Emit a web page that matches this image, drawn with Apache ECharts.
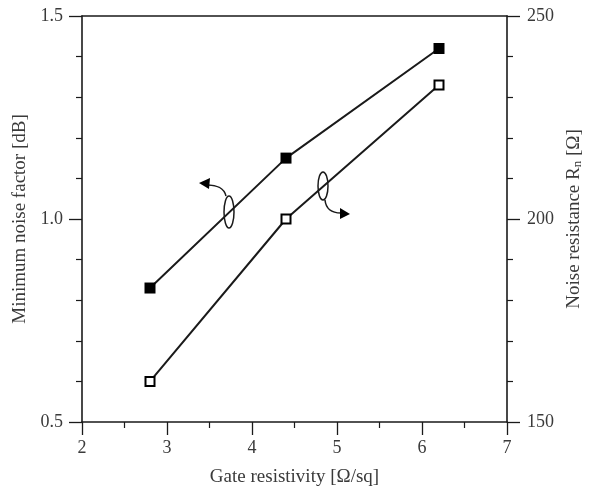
<!DOCTYPE html>
<html>
<head>
<meta charset="utf-8">
<script src="https://cdn.jsdelivr.net/npm/echarts@6/dist/echarts.min.js"></script>
<style>html,body{margin:0;padding:0;background:#fff}#c{width:594px;height:492px}</style>
</head>
<body>
<div id="c"></div>
<script>
const gateResistivity = [2.8, 4.4, 6.2];
const noiseFactor = [0.83, 1.15, 1.42];
const noiseResistance = [160, 200, 233];
const xTicks = [2, 3, 4, 5, 6, 7];
const leftTicks = [0.5, 1.0, 1.5];
const rightTicks = [150, 200, 250];

const FONT = 'Liberation Serif';
const TXT = '#3a3a3a';
const LINE = '#1a1a1a';
const LBL = 18;
const NAME = 19;

const chart = echarts.init(document.getElementById('c'), null, {renderer: 'canvas'});
const axisCommon = {
  axisLine: {show: true, lineStyle: {color: LINE, width: 1.6}},
  axisTick: {show: true, inside: false, length: 13, lineStyle: {color: LINE, width: 1.3}},
  minorTick: {show: true, splitNumber: 5, length: 6, lineStyle: {color: LINE, width: 1.2}},
  splitLine: {show: false},
  axisLabel: {color: TXT, fontFamily: FONT, fontSize: LBL, margin: 18},
  nameTextStyle: {color: TXT, fontFamily: FONT, fontSize: NAME}
};
chart.setOption({
  animation: false,
  backgroundColor: '#fff',
  grid: {left: 82, right: 87, top: 16, bottom: 70},
  xAxis: [
    Object.assign({}, axisCommon, {
      type: 'value', min: xTicks[0], max: xTicks[xTicks.length - 1], interval: 1,
      minorTick: {show: true, splitNumber: 2, length: 6, lineStyle: {color: LINE, width: 1.2}},
      name: 'Gate resistivity [Ω/sq]', nameLocation: 'middle', nameGap: 46,
      axisLabel: {color: TXT, fontFamily: FONT, fontSize: LBL, margin: 17}
    }),
    {type: 'value', position: 'top', min: 2, max: 7, axisLine: {show: true, lineStyle: {color: LINE, width: 1.6}},
     axisTick: {show: false}, axisLabel: {show: false}, splitLine: {show: false}}
  ],
  yAxis: [
    Object.assign({}, axisCommon, {
      type: 'value', position: 'left', min: leftTicks[0], max: leftTicks[2], interval: 0.5,
      name: 'Minimum noise factor [dB]', nameLocation: 'middle', nameGap: 50, nameRotate: 90,
      axisLabel: {color: TXT, fontFamily: FONT, fontSize: LBL, margin: 19, formatter: v => v.toFixed(1)}
    }),
    Object.assign({}, axisCommon, {
      type: 'value', position: 'right', min: rightTicks[0], max: rightTicks[2], interval: 50,
      axisLabel: {color: TXT, fontFamily: FONT, fontSize: LBL, margin: 20},
      name: '{a|Noise resistance R}{s|n}{a| [Ω]}', nameLocation: 'middle', nameGap: 56, nameRotate: 90,
      nameTextStyle: {color: TXT, fontFamily: FONT, fontSize: NAME,
        rich: {a: {color: TXT, fontFamily: FONT, fontSize: NAME},
               s: {color: TXT, fontFamily: FONT, fontSize: 13, verticalAlign: 'bottom', padding: [7, 0, 0, 0]}}}
    })
  ],
  series: [
    {type: 'line', yAxisIndex: 0, data: gateResistivity.map((x, i) => [x, noiseFactor[i]]),
     symbol: 'rect', symbolSize: 11, lineStyle: {color: LINE, width: 2},
     itemStyle: {color: '#000', borderColor: '#000', borderWidth: 0}},
    {type: 'line', yAxisIndex: 1, data: gateResistivity.map((x, i) => [x, noiseResistance[i]]),
     symbol: 'rect', symbolSize: 9, lineStyle: {color: LINE, width: 2},
     itemStyle: {color: '#fff', borderColor: '#000', borderWidth: 2}}
  ],
  graphic: [
    {type: 'ellipse', shape: {cx: 229, cy: 212, rx: 5, ry: 16}, style: {fill: 'none', stroke: LINE, lineWidth: 1.5}, z: 10},
    {type: 'bezierCurve', shape: {x1: 226, y1: 196, x2: 208, y2: 185, cpx1: 224, cpy1: 188, cpx2: 216, cpy2: 185},
     style: {fill: 'none', stroke: LINE, lineWidth: 1.5}, z: 10},
    {type: 'polygon', shape: {points: [[199, 183], [210, 178], [209, 189]]}, style: {fill: '#000'}, z: 10},
    {type: 'ellipse', shape: {cx: 323, cy: 186, rx: 5, ry: 14}, style: {fill: 'none', stroke: LINE, lineWidth: 1.5}, z: 10},
    {type: 'bezierCurve', shape: {x1: 325, y1: 200, x2: 341, y2: 213, cpx1: 326, cpy1: 210, cpx2: 333, cpy2: 213},
     style: {fill: 'none', stroke: LINE, lineWidth: 1.5}, z: 10},
    {type: 'polygon', shape: {points: [[350, 214], [340, 208], [340, 219]]}, style: {fill: '#000'}, z: 10}
  ]
});
</script>
</body>
</html>
